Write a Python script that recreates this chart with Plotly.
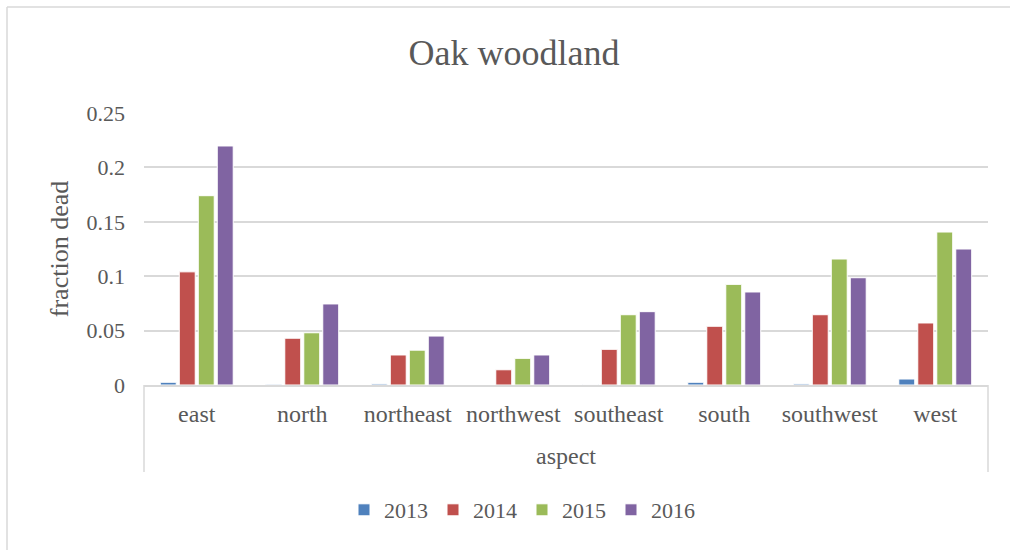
import plotly.graph_objects as go

# Fraction of dead oak woodland by slope aspect, per survey year
aspects = ["east", "north", "northeast", "northwest", "southeast", "south", "southwest", "west"]
years = ["2013", "2014", "2015", "2016"]

dead_2013 = [0.0025, 0.0007, 0.001, 0.0, 0.0005, 0.0025, 0.001, 0.0055]
dead_2014 = [0.104, 0.043, 0.0276, 0.014, 0.0328, 0.054, 0.0646, 0.057]
dead_2015 = [0.174, 0.048, 0.032, 0.0245, 0.0646, 0.0925, 0.1158, 0.1406]
dead_2016 = [0.2197, 0.0745, 0.045, 0.0276, 0.0674, 0.0855, 0.0986, 0.125]

y_ticks = [0, 0.05, 0.1, 0.15, 0.2, 0.25]
y_tick_text = ["0", "0.05", "0.1", "0.15", "0.2", "0.25"]

series = [dead_2013, dead_2014, dead_2015, dead_2016]
colors = ["#4F81BD", "#C0504D", "#9BBB59", "#8064A2"]

FONT = "Liberation Serif"
TEXT = "#595959"
GRID = "#D9D9D9"

fig = go.Figure()
for name, vals, col in zip(years, series, colors):
    fig.add_trace(go.Bar(
        x=aspects, y=vals, name=name,
        marker=dict(color=col, line=dict(color="white", width=1)),
    ))

# plot area spans x 144..988, y 113..385 in the 1010x550 page
L, R, T, B = 144, 22, 113, 165
plot_w = 1010 - L - R
plot_h = 550 - T - B


def px_x(px):
    return (px - L) / plot_w


def px_y(py):
    return (550 - B - py) / plot_h


shapes = [
    # category-axis bracket below the plot
    dict(type="line", xref="paper", yref="paper", x0=0, x1=0, y0=0, y1=px_y(472),
         line=dict(color=GRID, width=1.5)),
    dict(type="line", xref="paper", yref="paper", x0=1, x1=1, y0=0, y1=px_y(472),
         line=dict(color=GRID, width=1.5)),
    # chart-area border (top and left edges)
    dict(type="line", xref="paper", yref="paper", x0=px_x(7), x1=px_x(1012), y0=px_y(7), y1=px_y(7),
         line=dict(color=GRID, width=1.5)),
    dict(type="line", xref="paper", yref="paper", x0=px_x(7), x1=px_x(7), y0=px_y(7), y1=px_y(552),
         line=dict(color=GRID, width=1.5)),
]

fig.update_layout(
    width=1010, height=550,
    margin=dict(l=L, r=R, t=T, b=B, pad=0),
    paper_bgcolor="white", plot_bgcolor="white",
    font=dict(family=FONT, size=23, color=TEXT),
    title=dict(text="Oak woodland", x=px_x(514), xanchor="center", xref="paper",
               y=1 - 52 / 550, yanchor="middle", yref="container",
               font=dict(family=FONT, size=36, color=TEXT)),
    barmode="group", bargap=0.28, bargroupgap=0.16,
    showlegend=True,
    legend=dict(orientation="h", x=px_x(522), xanchor="center", y=px_y(510), yanchor="middle",
                font=dict(family=FONT, size=22, color=TEXT), itemclick=False,
                tracegroupgap=0, itemwidth=30),
    shapes=shapes,
)

fig.update_xaxes(
    showline=True, linecolor=GRID, linewidth=1.5,
    showgrid=False, ticks="", ticklabelstandoff=6,
    tickfont=dict(family=FONT, size=24, color=TEXT),
    title=dict(text="aspect", standoff=22, font=dict(family=FONT, size=24, color=TEXT)),
)

fig.update_yaxes(
    range=[0, 0.25], tickvals=y_ticks, ticktext=y_tick_text,
    showgrid=True, gridcolor=GRID, gridwidth=1.5,
    zeroline=False, showline=False, ticks="", ticklabelstandoff=18,
    tickfont=dict(family=FONT, size=22, color=TEXT),
    title=dict(text="fraction dead", standoff=10, font=dict(family=FONT, size=26, color=TEXT)),
)

fig.write_html("out.html")
